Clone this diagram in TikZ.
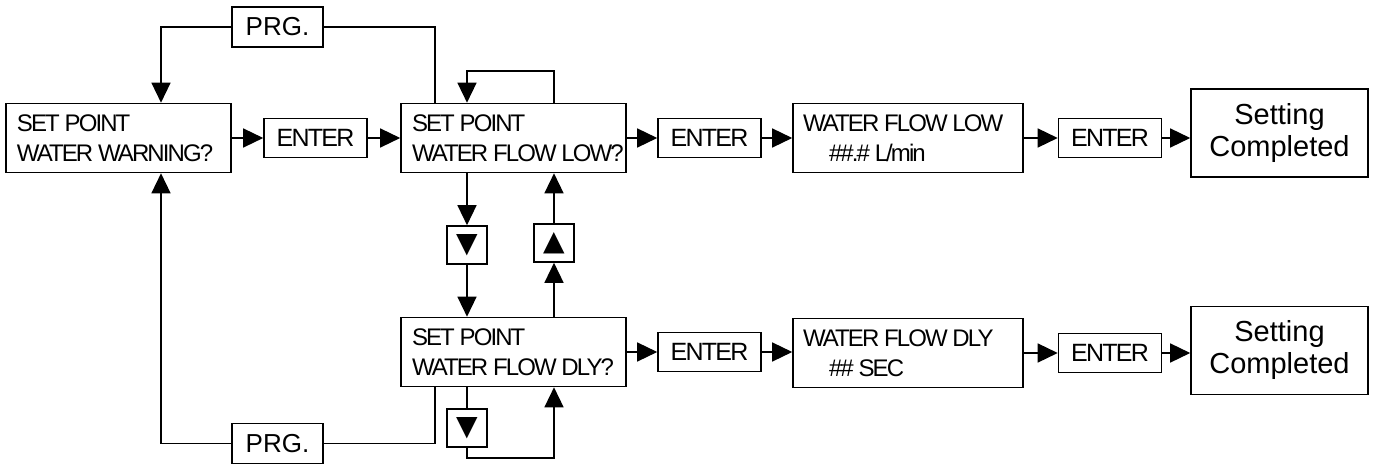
\documentclass[tikz,border=0pt]{standalone}
\usepackage{fontspec}
\setmainfont{Liberation Sans}
\newfontfamily\boxfont{Liberation Sans}[LetterSpace=-8]
\newfontfamily\keyfont{Liberation Sans}[LetterSpace=-7]
\newfontfamily\symfont{DejaVu Sans}
\newcommand\wsp{\hspace*{2.4pt}}
\usetikzlibrary{arrows.meta,calc}
\tikzset{
  conn/.style={line width=0.7pt},
  arr/.style={line width=0.7pt,-{Triangle[length=10pt,width=9.5pt]}},
  panel/.style={draw, line width=0.8pt, minimum height=34.5pt, inner xsep=5.5pt, inner ysep=0pt, align=left, font={\boxfont\fontsize{12}{15}\selectfont}},
  keybox/.style={draw, line width=0.8pt, minimum width=51.5pt, minimum height=19.5pt, inner sep=0pt, font={\keyfont\fontsize{12.5}{14}\selectfont}},
  prgbox/.style={draw, line width=0.8pt, minimum width=45.5pt, minimum height=20pt, inner sep=0pt, font={\fontsize{13}{15}\selectfont}},
  donebox/.style={draw, line width=0.8pt, minimum width=88.5pt, minimum height=44pt, inner sep=0pt, align=center, font={\fontsize{14.5}{16}\selectfont}},
  navbox/.style={draw, line width=0.8pt, minimum width=20pt, minimum height=19pt, inner sep=0pt, font={\symfont\fontsize{14}{14}\selectfont}}
}
\begin{document}
\begin{tikzpicture}[x=0.5pt,y=-0.5pt]
\useasboundingbox (0,0) rectangle (1374,464);
% row 1
\node[panel, text width=101.5pt] (A) at (118.5,138) {\mbox{SET\wsp POINT}\\\mbox{WATER\wsp WARNING?}};
\node[keybox] (e1) at (315.5,138) {ENTER};
\node[panel, text width=101.5pt] (B) at (513.5,138) {\mbox{SET\wsp POINT}\\\mbox{WATER\wsp FLOW\wsp LOW?}};
\node[keybox] (e2) at (709.5,138) {ENTER};
\node[panel, text width=105pt, inner xsep=5pt] (C) at (908,138) {\mbox{WATER\wsp FLOW\wsp LOW}\\\mbox{\hspace*{13pt}\#\#.\#\wsp L/min}};
\node[keybox] (e3) at (1110,138) {ENTER};
\node[donebox] (S1) at (1279.5,133) {Setting\\Completed};
% row 2
\node[panel, text width=101.5pt] (D) at (513.5,352) {\mbox{SET\wsp POINT}\\\mbox{WATER\wsp FLOW\wsp DLY?}};
\node[keybox] (e4) at (709.5,352) {ENTER};
\node[panel, text width=105pt, inner xsep=5pt] (E) at (908,353) {\mbox{WATER\wsp FLOW\wsp DLY}\\\mbox{\hspace*{13pt}\#\#\wsp SEC}};
\node[keybox] (e5) at (1110,353) {ENTER};
\node[donebox] (S2) at (1279.5,350.5) {Setting\\Completed};
% PRG and nav keys
\node[prgbox] (prg1) at (277.5,27) {PRG.};
\node[prgbox] (prg2) at (277.5,443.5) {PRG.};
\node[navbox] (dn1) at (467,245) {▼};
\node[navbox] (up1) at (554,243) {▲};
\node[navbox] (dn2) at (467,428) {▼};
% helper coordinates
\coordinate (colA) at (161,0);
\coordinate (colP) at (435,0);
\coordinate (colD) at (467,0);
\coordinate (colU) at (554,0);
\coordinate (loopT) at (0,71);
\coordinate (loopB) at (0,458);
% PRG loops
\draw[arr] (prg1.west) -| (colA |- A.north);
\draw[conn] (prg1.east) -| (colP |- B.north);
\draw[arr] (prg2.west) -| (colA |- A.south);
\draw[conn] (prg2.east) -| (colP |- D.south);
% self loop on B
\draw[arr] (colU |- B.north) -- (colU |- loopT) -| (colD |- B.north);
% row 1 flow
\draw[arr] (A.east) -- (e1.west);
\draw[arr] (e1.east) -- (B.west);
\draw[arr] (B.east) -- (e2.west);
\draw[arr] (e2.east) -- (C.west);
\draw[arr] (C.east) -- (e3.west);
\draw[arr] (e3.east) -- (e3.east -| S1.west);
% row 2 flow
\draw[arr] (D.east) -- (D.east -| e4.west);
\draw[arr] (e4.east) -- (e4.east -| E.west);
\draw[arr] (E.east) -- (E.east -| e5.west);
\draw[arr] (e5.east) -- (e5.east -| S2.west);
% vertical navigation
\draw[arr] (colD |- B.south) -- (dn1.north);
\draw[arr] (dn1.south) -- (colD |- D.north);
\draw[arr] (colU |- D.north) -- (up1.south);
\draw[arr] (up1.north) -- (colU |- B.south);
\draw[conn] (colD |- D.south) -- (dn2.north);
\draw[arr] (dn2.south) -- (colD |- loopB) -| (colU |- D.south);
\end{tikzpicture}
\end{document}
